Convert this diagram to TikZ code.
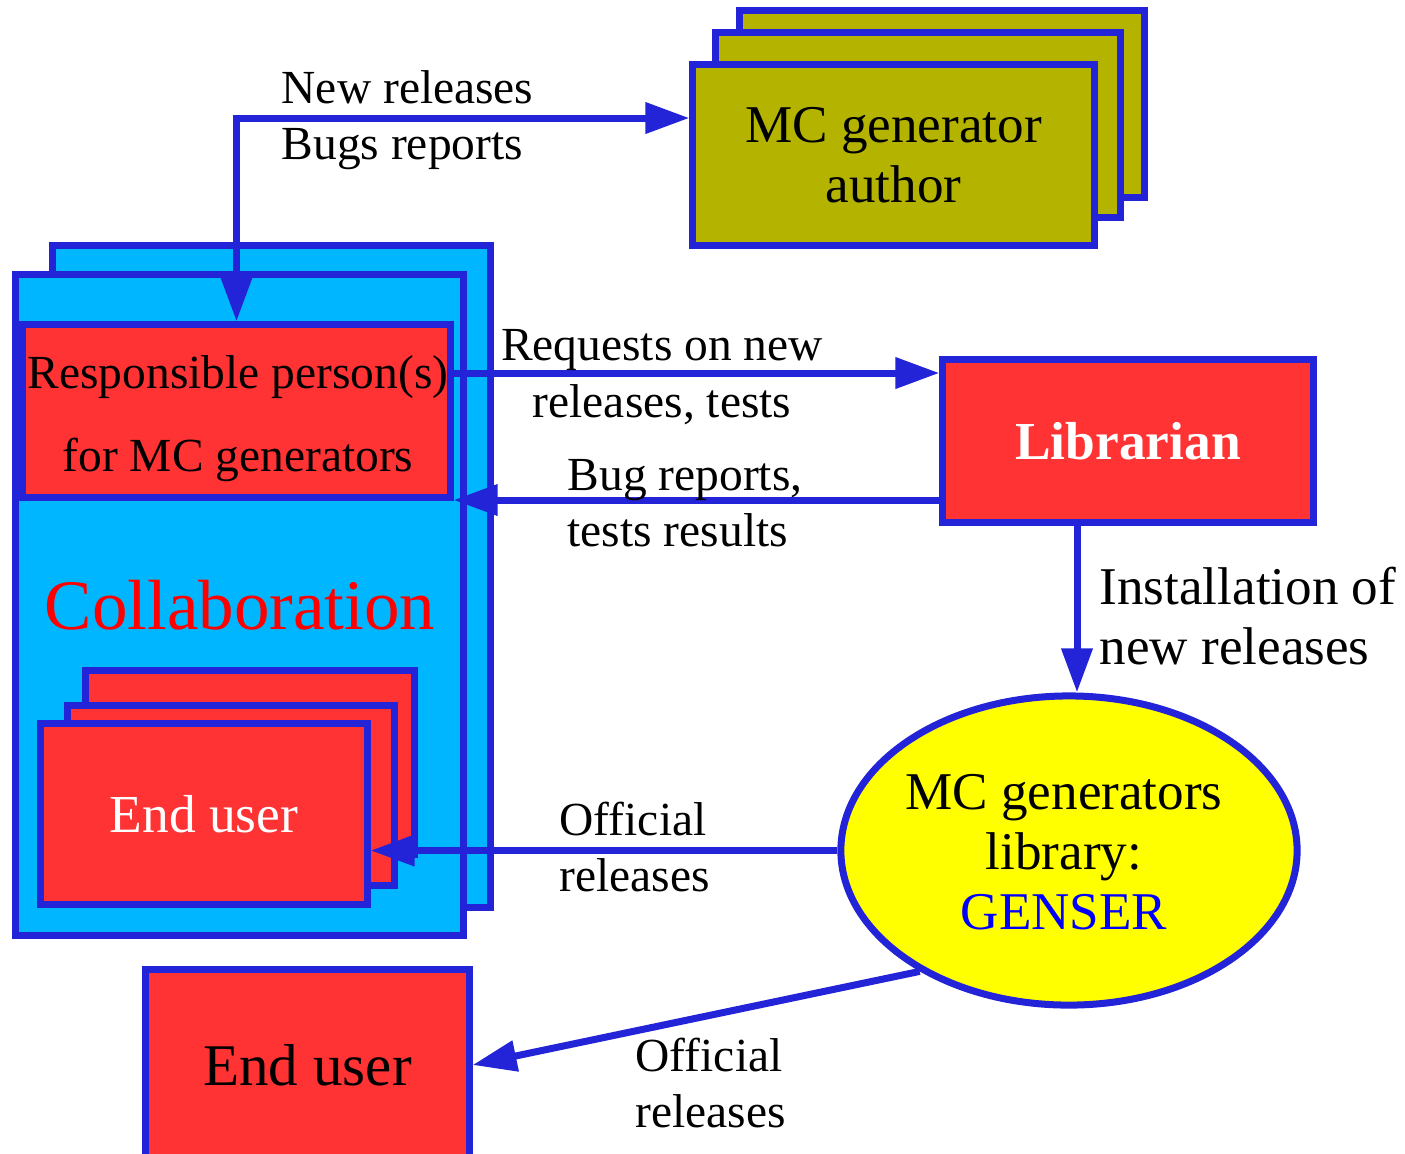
\documentclass[tikz,border=0pt]{standalone}
\usepackage{fontspec}
\setmainfont{Liberation Serif}
\usetikzlibrary{arrows.meta,shapes.geometric,calc}
\definecolor{bl}{RGB}{35,35,216}
\definecolor{cyanfill}{RGB}{0,183,255}
\definecolor{redfill}{RGB}{255,51,51}
\definecolor{olivefill}{RGB}{180,180,0}
\definecolor{yellowfill}{RGB}{255,255,0}
\definecolor{collred}{RGB}{255,0,0}
\definecolor{genblue}{RGB}{0,0,255}
\begin{document}
\begin{tikzpicture}[x=0.01cm,y=-0.01cm,
  >={Triangle[length=0.44cm,width=0.3cm]},
  box/.style={draw=bl, line width=0.07cm, inner sep=0pt},
  arr/.style={draw=bl, line width=0.07cm, ->},
  lbl/.style={font=\fontsize{13.5}{16}\selectfont, inner sep=0pt, align=left},
  big/.style={font=\fontsize{15.1}{17.1}\selectfont, align=center}]
\useasboundingbox (0,0) rectangle (1405,1153);

% MC generator author stack
\node[box, fill=olivefill, minimum width=4.04cm, minimum height=1.86cm] (auth3) at (942,104) {};
\node[box, fill=olivefill, minimum width=4.04cm, minimum height=1.84cm] (auth2) at (918,125) {};
\node[box, fill=olivefill, big, minimum width=4.01cm, minimum height=1.80cm] (auth) at (893.5,155) {MC generator\\author};

% Collaboration boxes
\node[box, fill=cyanfill, minimum width=4.37cm, minimum height=6.61cm] (coll2) at (271.5,576.5) {};
\node[box, fill=cyanfill, minimum width=4.47cm, minimum height=6.60cm] (coll) at (239.5,605) {};
\node[box, fill=redfill, minimum width=4.27cm, minimum height=1.72cm] (resp) at (236.5,411) {};
\node[align=center, inner sep=0pt, font=\fontsize{13.5}{23.6}\selectfont] (resptext) at (238,419) {Responsible person(s)\\for MC generators};
\node[font=\fontsize{20.2}{24}\selectfont, text=collred, inner sep=0pt] (colltext) at (240,605) {Collaboration};

% End user stack inside collaboration
\node[box, fill=redfill, minimum width=3.28cm, minimum height=1.83cm] (eu3) at (250,762.5) {};
\node[box, fill=redfill, minimum width=3.26cm, minimum height=1.79cm] (eu2) at (231,795.5) {};
\node[box, fill=redfill, minimum width=3.26cm, minimum height=1.80cm, text=white,
      font=\fontsize{15.2}{18}\selectfont] (eu1) at (204,814) {End user};

% Librarian
\node[box, fill=redfill, minimum width=3.70cm, minimum height=1.62cm, text=white,
      font=\fontsize{15.2}{18}\selectfont\bfseries] (lib) at (1128,441) {Librarian};

% GENSER ellipse
\node[box, ellipse, fill=yellowfill, minimum width=4.56cm, minimum height=3.09cm]
      (ell) at (1069,850.5) {};
\node[big, inner sep=0pt] (elltext) at (1064,852) {MC generators\\library:\\{\color{genblue}GENSER}};

% Bottom end user
\node[box, fill=redfill, minimum width=3.23cm, minimum height=1.90cm,
      font=\fontsize{16.8}{20}\selectfont] (eb) at (307.5,1065) {End user};

% Connectors
\coordinate (ty) at (0,118);
\coordinate (ry) at (0,373);
\coordinate (by) at (0,500);
\coordinate (ix) at (1077,0);
\draw[arr, <->] (resp.north) |- (auth.west |- ty);
\draw[arr] (resp.east |- ry) -- (lib.west |- ry);
\draw[arr] (lib.west |- by) -- (resp.east |- by);
\draw[arr] (lib.south -| ix) -- (ell.north -| ix);
\draw[arr] (ell.west) -- (eu1.east |- ell.west);
\draw[arr] (ell.219) -- (eb.east);

% Labels
\node[lbl, anchor=west] (l1) at (281,120) {New releases\\Bugs reports};
\node[lbl, align=center] (l2) at (662,377) {Requests on new\\releases, tests};
\node[lbl, anchor=west] (l3) at (567,503) {Bug reports,\\tests results};
\node[lbl, anchor=west, font=\fontsize{15.1}{17.3}\selectfont] (l4) at (1099,616) {Installation of\\new releases};
\node[lbl, anchor=west] (l5) at (559,847) {Official\\releases};
\node[lbl, anchor=west] (l6) at (635,1083) {Official\\releases};
\end{tikzpicture}
\end{document}
